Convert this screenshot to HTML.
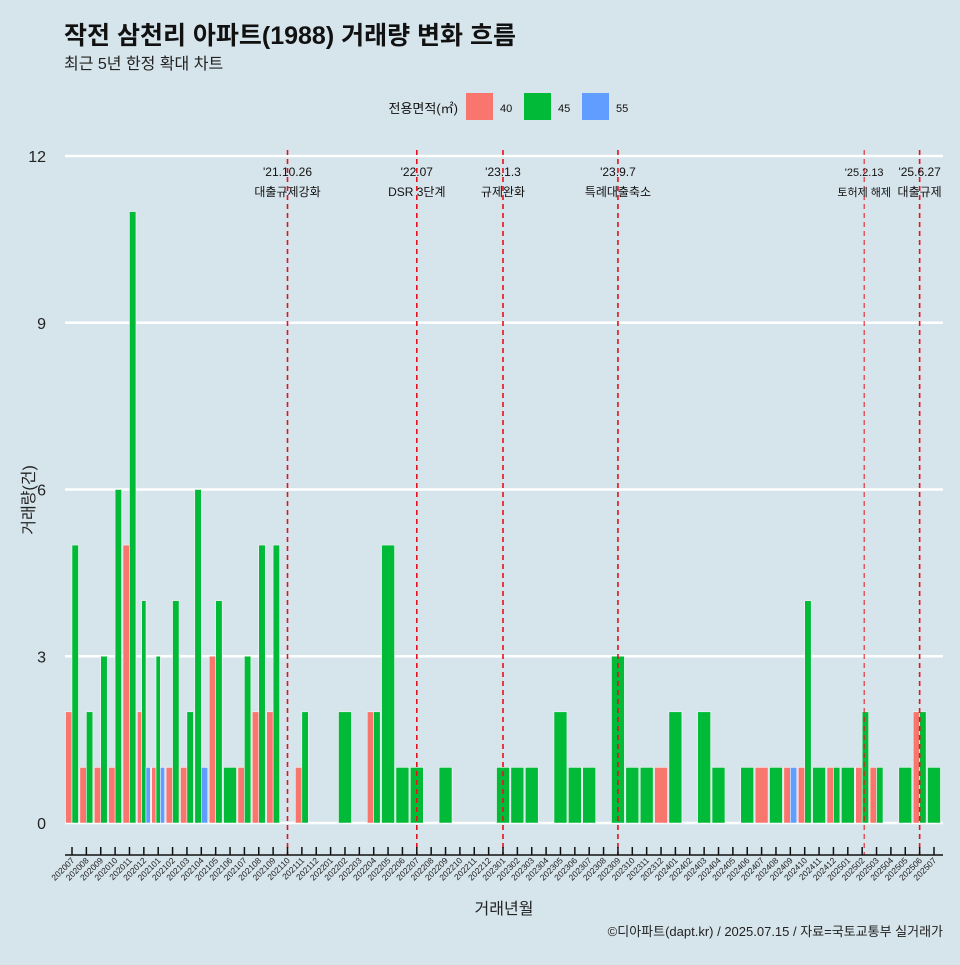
<!DOCTYPE html>
<html><head><meta charset="utf-8">
<style>
body{margin:0;background:#d6e4eb;}
svg text{font-family:"Liberation Sans","Noto Sans CJK KR",sans-serif;}
</style></head>
<body>
<svg id="chart" width="960" height="960" xmlns="http://www.w3.org/2000/svg">
<rect width="960" height="960" fill="#d6e4eb"/>
<text x="64" y="44" font-size="25" font-weight="bold" fill="#111">작전 삼천리 아파트(1988) 거래량 변화 흐름</text>
<text x="64" y="69" font-size="16" fill="#222">최근 5년 한정 확대 차트</text>
<g>
<text x="458" y="113" font-size="13" text-anchor="end" fill="#111">전용면적(㎡)</text>
<rect x="466" y="93" width="27" height="27" fill="#f8766d"/>
<text x="500" y="112" font-size="11" fill="#111">40</text>
<rect x="524" y="93" width="27" height="27" fill="#00ba38"/>
<text x="558" y="112" font-size="11" fill="#111">45</text>
<rect x="582" y="93" width="27" height="27" fill="#619cff"/>
<text x="616" y="112" font-size="11" fill="#111">55</text>
</g>
<g id="grid"></g><g id="bars"></g><g id="events"></g><g id="axes"></g>
<text transform="translate(34,500) rotate(-90)" font-size="16" text-anchor="middle" fill="#222">거래량(건)</text>
<text x="504" y="914" font-size="16" text-anchor="middle" fill="#222">거래년월</text>
<text x="943" y="936" font-size="13" text-anchor="end" fill="#222">©디아파트(dapt.kr) / 2025.07.15 / 자료=국토교통부 실거래가</text>
</svg>
<script>
const months=["202007","202008","202009","202010","202011","202012","202101","202102","202103","202104","202105","202106","202107","202108","202109","202110","202111","202112","202201","202202","202203","202204","202205","202206","202207","202208","202209","202210","202211","202212","202301","202302","202303","202304","202305","202306","202307","202308","202309","202310","202311","202312","202401","202402","202403","202404","202405","202406","202407","202408","202409","202410","202411","202412","202501","202502","202503","202504","202505","202506","202507"];
const s40=[2,1,1,1,5,2,1,1,1,0,3,0,1,2,2,0,1,0,0,0,0,2,0,0,0,0,0,0,0,0,0,0,0,0,0,0,0,0,0,0,0,1,0,0,0,0,0,0,1,0,1,1,0,1,0,1,1,0,0,2,0];
const s45=[5,2,3,6,11,4,3,4,2,6,4,1,3,5,5,0,2,0,0,2,0,2,5,1,1,0,1,0,0,0,1,1,1,0,2,1,1,0,3,1,1,0,2,0,2,1,0,1,0,1,0,4,1,1,1,2,1,0,1,2,1];
const s55=[0,0,0,0,0,1,1,0,0,1,0,0,0,0,0,0,0,0,0,0,0,0,0,0,0,0,0,0,0,0,0,0,0,0,0,0,0,0,0,0,0,0,0,0,0,0,0,0,0,0,1,0,0,0,0,0,0,0,0,0,0];
const yTicks=[0,3,6,9,12];
const evMonths=["202110","202207","202301","202309","202502","202506"];
const evDates=["'21.10.26","'22.07","'23.1.3","'23.9.7","'25.2.13","'25.6.27"];
const evLabels=["대출규제강화","DSR 3단계","규제완화","특례대출축소","토허제 해제","대출규제"];
const NS="http://www.w3.org/2000/svg";
const x0=72,x1=934,y0=823,y12=156;
const xs=i=>x0+(x1-x0)*i/(months.length-1);
const ys=v=>y0+(y12-y0)*v/12;
const step=(x1-x0)/(months.length-1);
function mk(tag,attrs,parent){const e=document.createElementNS(NS,tag);for(const k in attrs)e.setAttribute(k,attrs[k]);document.getElementById(parent).appendChild(e);return e;}
yTicks.forEach(v=>{
 const l=mk('line',{x1:65,x2:943,y1:ys(v),y2:ys(v),stroke:'#fff','stroke-width':2.5},'grid');
 
 
 const t=mk('text',{x:46,y:ys(v)+6,'font-size':16,'text-anchor':'end',fill:'#222'},'grid');
 t.textContent=v;
 
 
});
const cols=['#f8766d','#00ba38','#619cff'];
months.forEach((m,i)=>{
 const vals=[s40[i],s45[i],s55[i]];
 const present=[0,1,2].filter(k=>vals[k]>0);
 const w=step*0.9/ (present.length||1);
 present.forEach((k,j)=>{
  const bx=xs(i)-step*0.45+j*w;
  const r=mk('rect',{x:bx,y:ys(vals[k]),width:w,height:y0-ys(vals[k]),fill:cols[k],stroke:'#fff','stroke-width':0.5},'bars');
  
  
 });
 const tk=mk('line',{x1:xs(i),x2:xs(i),y1:847,y2:855,stroke:'#111','stroke-width':1.5},'axes');
 
 
 const t=mk('text',{transform:`translate(${xs(i)+3},${861}) rotate(-45)`,'font-size':8.5,'text-anchor':'end',fill:'#222'},'axes');
 t.textContent=m;
 
 
});
const ax=mk('line',{x1:65,x2:943,y1:855,y2:855,stroke:'#111','stroke-width':1.5},'axes');


evMonths.forEach((m,j)=>{
 const i=months.indexOf(m),x=xs(i)+(j==4?2:0);
 const l=mk('line',{x1:x,x2:x,y1:150,y2:855,stroke:'#e8101a','stroke-width':j==4?1:1.6,'stroke-dasharray':'5,4'},'events');
 
 
 const fs=j==4?11:12;
 const d=mk('text',{x:x,y:176,'font-size':fs,'text-anchor':'middle',fill:'#111'},'events');
 d.textContent=evDates[j];
 
 
 const t=mk('text',{x:x,y:196,'font-size':fs,'text-anchor':'middle',fill:'#111'},'events');
 t.textContent=evLabels[j];
 
 
});
</script>
</body></html>
